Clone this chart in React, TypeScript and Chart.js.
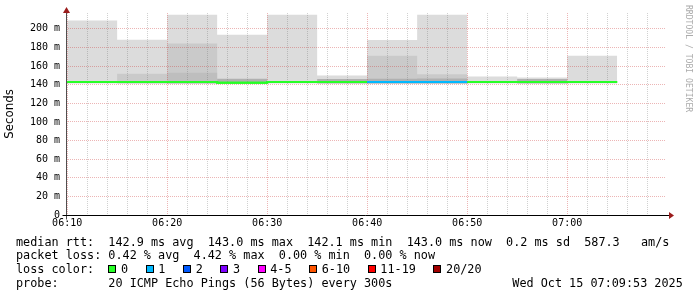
import React, { useEffect, useRef } from 'react';
import { Chart, registerables } from 'chart.js';
Chart.register(...registerables);

// ---- data ----
const intervalStarts = ['06:10', '06:15', '06:20', '06:25', '06:30', '06:35', '06:40', '06:45', '06:50', '06:55', '07:00'];
const dataEnd = '07:05';
const axisStart = '06:09:53';
const axisEnd = '07:09:53';

const smokeMax = [208.9, 188.2, 215.0, 193.6, 215.0, 149.8, 187.9, 215.0, 148.8, 147.7, 171.0];
const smokeMid = [141.3, 151.7, 184.2, 141.3, 141.3, 141.3, 171.0, 151.3, 141.3, 141.3, 141.3];
const smokeMid2 = [141.3, 141.3, 152.7, 141.3, 141.3, 141.3, 141.3, 141.3, 141.3, 141.3, 141.3];
const smokeDark = [141.3, 141.3, 141.3, 146.3, 141.3, 146.0, 146.5, 146.6, 141.3, 146.0, 141.3];
const smokeMin = [141.3, 141.3, 141.3, 141.3, 141.3, 141.3, 141.3, 141.3, 141.3, 141.3, 141.3];
const medianRtt = [142.9, 143.0, 142.9, 142.1, 142.9, 142.9, 142.9, 143.0, 142.9, 142.9, 143.0];
const lossCount = [0, 0, 0, 0, 0, 0, 1, 1, 0, 0, 0];

const yMax = 217;
const yTickValues = [0, 10, 20, 30, 40, 50, 60, 70, 80, 90, 100, 110, 120, 130, 140, 150, 160, 170, 180, 190, 200, 210];
const xTickLabels = ['06:10', '06:12', '06:14', '06:16', '06:18', '06:20', '06:22', '06:24', '06:26', '06:28', '06:30', '06:32', '06:34', '06:36', '06:38', '06:40', '06:42', '06:44', '06:46', '06:48', '06:50', '06:52', '06:54', '06:56', '06:58', '07:00', '07:02', '07:04', '07:06', '07:08'];

const lossLabels = ['0', '1', '2', '3', '4-5', '6-10', '11-19', '20/20'];
const lossColors = ['#26ff26', '#00b8ff', '#0059ff', '#7e00ff', '#ff00ff', '#ff5500', '#ff0000', '#a10000'];

const rttLine = 'median rtt:  142.9 ms avg  143.0 ms max  142.1 ms min  143.0 ms now  0.2 ms sd  587.3   am/s';
const lossLine = 'packet loss: 0.42 % avg  4.42 % max  0.00 % min  0.00 % now';
const colorLine = 'loss color:';
const probeLine = 'probe:       20 ICMP Echo Pings (56 Bytes) every 300s';
const dateText = 'Wed Oct 15 07:09:53 2025';
const sideText = 'RRDTOOL / TOBI OETIKER';

// ---- helpers ----
const toMin = (t: string) => {
  const p = t.split(':').map(Number);
  return p[0] * 60 + p[1] + (p[2] || 0) / 60;
};
const fmt = (v: number) => {
  const h = Math.floor(v / 60);
  const m = Math.round(v % 60);
  return `${String(h).padStart(2, '0')}:${String(m).padStart(2, '0')}`;
};
const stepPts = (vals: number[]) => [
  ...vals.map((v, i) => ({ x: toMin(intervalStarts[i]), y: v })),
  { x: toMin(dataEnd), y: vals[vals.length - 1] },
];
const lossColorFor = (n: number) => {
  if (n <= 0) return lossColors[0];
  if (n === 1) return lossColors[1];
  if (n === 2) return lossColors[2];
  if (n === 3) return lossColors[3];
  if (n <= 5) return lossColors[4];
  if (n <= 10) return lossColors[5];
  if (n <= 19) return lossColors[6];
  return lossColors[7];
};

const MONO = '"DejaVu Sans Mono", monospace';
const CLEAR = 'rgba(0,0,0,0)';
const GRID_MAJOR = 'rgba(205,60,60,0.38)';
const GRID_MINOR = 'rgba(110,110,110,0.32)';

const decorPlugin = {
  id: 'decor',
  beforeDraw(chart: any) {
    const ctx = chart.ctx;
    ctx.save();
    ctx.fillStyle = '#ffffff';
    ctx.fillRect(0, 0, chart.width, chart.height);
    ctx.restore();
  },
  afterDraw(chart: any) {
    const ctx = chart.ctx;
    // redraw median line above the grid
    const meta = chart.getDatasetMeta(0);
    if (meta && meta.controller) {
      ctx.save();
      meta.controller.draw();
      ctx.restore();
    }
    const xs = chart.scales.x;
    const ys = chart.scales.y;
    const left = Math.round(xs.getPixelForValue(toMin('06:10'))) - 0.5;
    const bottom = Math.round(ys.getPixelForValue(0)) + 0.5;
    const right = xs.right;
    const top = ys.top;
    ctx.save();
    // axes
    ctx.lineWidth = 1;
    ctx.strokeStyle = '#505050';
    ctx.beginPath();
    ctx.moveTo(left, top - 1);
    ctx.lineTo(left, bottom + 4);
    ctx.stroke();
    ctx.strokeStyle = '#000000';
    ctx.beginPath();
    ctx.moveTo(left - 4, bottom);
    ctx.lineTo(right + 3, bottom);
    ctx.stroke();
    // arrows
    ctx.fillStyle = '#9b1c1c';
    ctx.beginPath();
    ctx.moveTo(left, top - 6);
    ctx.lineTo(left - 3.5, top);
    ctx.lineTo(left + 3.5, top);
    ctx.closePath();
    ctx.fill();
    ctx.beginPath();
    ctx.moveTo(right + 8, bottom);
    ctx.lineTo(right + 3, bottom - 3.5);
    ctx.lineTo(right + 3, bottom + 3.5);
    ctx.closePath();
    ctx.fill();

    // legend text
    ctx.fillStyle = '#000000';
    ctx.font = `11.8px ${MONO}`;
    ctx.textBaseline = 'alphabetic';
    ctx.textAlign = 'left';
    const x0 = 16;
    const b = [245.6, 259.3, 273.0, 286.7];
    ctx.fillText(rttLine, x0, b[0]);
    ctx.fillText(lossLine, x0, b[1]);
    ctx.fillText(colorLine, x0, b[2]);
    ctx.fillText(probeLine, x0, b[3]);
    ctx.fillText(dateText, 512.3, b[3]);
    const cw = ctx.measureText('0').width;
    let sx = x0 + 13 * cw;
    for (let i = 0; i < lossLabels.length; i++) {
      ctx.fillStyle = '#000000';
      ctx.fillRect(Math.round(sx), 265, 8, 8);
      ctx.fillStyle = lossColors[i];
      ctx.fillRect(Math.round(sx) + 1, 266, 6, 6);
      ctx.fillStyle = '#000000';
      const lx = sx + 12.7;
      ctx.fillText(lossLabels[i], lx, b[2]);
      sx = lx + ctx.measureText(lossLabels[i]).width + 17.5;
    }

    // side text
    ctx.save();
    ctx.translate(688, 5);
    ctx.rotate(Math.PI / 2);
    ctx.fillStyle = '#ababab';
    ctx.font = `8.1px ${MONO}`;
    ctx.textBaseline = 'middle';
    ctx.textAlign = 'left';
    ctx.fillText(sideText, 0, 0);
    ctx.restore();
    ctx.restore();
  },
};

export default function App() {
  const ref = useRef<HTMLCanvasElement | null>(null);
  useEffect(() => {
    if (!ref.current) return;
    const smokeFill = (vals: number[], color: string) => ({
      data: stepPts(vals),
      stepped: true,
      borderWidth: 0,
      borderColor: CLEAR,
      backgroundColor: color,
      pointRadius: 0,
      fill: 5,
    });
    const chart = new Chart(ref.current, {
      type: 'line',
      data: {
        datasets: [
          {
            label: 'median',
            data: stepPts(medianRtt),
            stepped: true,
            borderWidth: 2,
            borderColor: lossColors[0],
            segment: { borderColor: (c: any) => lossColorFor(lossCount[c.p0DataIndex]) },
            pointRadius: 0,
            fill: false,
          } as any,
          smokeFill(smokeDark, '#b0b0b0'),
          smokeFill(smokeMid2, '#bebebe'),
          smokeFill(smokeMid, '#cacaca'),
          smokeFill(smokeMax, '#dcdcdc'),
          {
            data: stepPts(smokeMin),
            stepped: true,
            borderWidth: 0,
            borderColor: CLEAR,
            pointRadius: 0,
            fill: false,
          },
        ],
      },
      options: {
        animation: false,
        responsive: false,
        devicePixelRatio: 1,
        layout: { padding: { left: 0, top: 13, right: 31, bottom: 0 } },
        plugins: {
          legend: { display: false },
          tooltip: { enabled: false },
        },
        scales: {
          x: {
            type: 'linear',
            min: toMin(axisStart),
            max: toMin(axisEnd),
            afterBuildTicks: (s: any) => {
              s.ticks = xTickLabels.map((l) => ({ value: toMin(l) }));
            },
            afterFit: (s: any) => {
              s.height = 82;
            },
            grid: {
              color: (c: any) => (c.tick && Math.round(c.tick.value) % 10 === 0 ? GRID_MAJOR : GRID_MINOR),
              lineWidth: 1,
              drawTicks: false,
              z: 1,
            },
            border: { display: false, dash: [1, 1] },
            ticks: {
              autoSkip: false,
              maxRotation: 0,
              minRotation: 0,
              padding: 2,
              color: '#000000',
              font: { family: MONO, size: 10 },
              callback: (v: any) => (Math.round(Number(v)) % 10 === 0 ? fmt(Number(v)) : ''),
            },
          },
          y: {
            type: 'linear',
            min: 0,
            max: yMax,
            afterBuildTicks: (s: any) => {
              s.ticks = yTickValues.map((v) => ({ value: v }));
            },
            afterFit: (s: any) => {
              s.width = 66;
            },
            grid: {
              color: (c: any) => (c.tick && c.tick.value % 20 === 0 ? GRID_MAJOR : GRID_MINOR),
              lineWidth: 1,
              drawTicks: false,
              z: 1,
            },
            border: { display: false, dash: [1, 1] },
            title: {
              display: true,
              text: 'Seconds',
              color: '#000000',
              font: { family: '"DejaVu Sans", sans-serif', size: 11.8 },
              padding: { top: 3, bottom: 0 },
            },
            ticks: {
              padding: 6,
              color: '#000000',
              font: { family: MONO, size: 10 },
              callback: (v: any) => {
                const n = Number(v);
                if (n % 20 !== 0) return '';
                return n === 0 ? '0' : `${n} m`;
              },
            },
          },
        },
      } as any,
      plugins: [decorPlugin],
    });
    return () => chart.destroy();
  }, []);
  return (
    <div style={{ position: 'absolute', left: 0, top: 0, width: 697, height: 297 }}>
      <canvas ref={ref} width={697} height={297} style={{ display: 'block', width: 697, height: 297 }} />
    </div>
  );
}
